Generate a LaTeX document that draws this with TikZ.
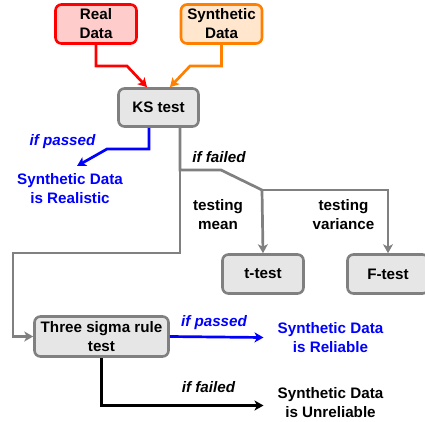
\documentclass[tikz,border=0pt]{standalone}
\usepackage{fontspec}
\setmainfont{Liberation Sans}
\usepackage{xcolor}
\usepackage{tikz}
\usetikzlibrary{shapes.geometric, arrows.meta}
\definecolor{realred}{HTML}{FF0000}
\definecolor{realfill}{HTML}{FFCCCC}
\definecolor{synorange}{HTML}{FF8000}
\definecolor{synfill}{HTML}{FFE6CC}
\definecolor{boxgray}{HTML}{808080}
\definecolor{boxfill}{HTML}{E6E6E6}
\definecolor{passblue}{HTML}{0000FF}
\tikzstyle{databox} = [rectangle, rounded corners=6pt, line width=2.6pt, minimum width=81pt, minimum height=39pt, align=center, inner sep=0pt]
\tikzstyle{testbox} = [rectangle, rounded corners=6pt, line width=2.6pt, draw=boxgray, fill=boxfill, minimum width=81pt, minimum height=39pt, align=center, inner sep=0pt]
\tikzstyle{result} = [align=center, inner sep=0pt]
\tikzstyle{cond} = [inner sep=0pt, font=\fontsize{15.2}{19}\selectfont\bfseries\itshape]
\tikzstyle{arrow} = [line width=2.7pt, -{Stealth[length=9pt, width=10pt, inset=2.5pt]}]

\begin{document}
\begin{tikzpicture}[x=1pt, y=-1pt, font=\fontsize{15.2}{19}\selectfont\bfseries]

        \useasboundingbox (0,0) rectangle (425,421);

        % Nodes
        \node (real) [databox, draw=realred, fill=realfill] at (96,24) {Real\\Data};
        \node (synth) [databox, draw=synorange, fill=synfill] at (221.5,24) {Synthetic\\Data};
        \node (ks) [testbox, minimum width=80pt, minimum height=38pt] at (158.5,107.5) {KS test};
        \node (ttest) [testbox] at (263,274) {t-test};
        \node (ftest) [testbox] at (388,274) {F-test};
        \node (sigma) [testbox, minimum width=134pt, minimum height=40pt] at (101.5,336.5) {Three sigma rule\\test};

        \node (realistic) [result, text=passblue] at (70,188.5) {Synthetic Data\\is Realistic};
        \node (reliable) [result, text=passblue] at (330.5,337.5) {Synthetic Data\\is Reliable};
        \node (unreliable) [result] at (330.5,402.5) {Synthetic Data\\is Unreliable};

        \node (mean) [result] at (218,215) {testing\\mean};
        \node (variance) [result] at (343.5,215) {testing\\variance};

        \node (pass1) [cond, text=passblue] at (62.5,142) {if passed};
        \node (fail1) [cond] at (219,157) {if failed};
        \node (pass2) [cond, text=passblue] at (214,323) {if passed};
        \node (fail2) [cond] at (208.5,387) {if failed};

        \coordinate (realtip) at (77,166);
        \coordinate (split) at (180,170);
        \coordinate (fork) at (262,190);

        % Arrows
        \draw [arrow, draw=realred] (real.south) |- (127,66) -- ([xshift=-11.5pt]ks.north);
        \draw [arrow, draw=synorange] (synth.south) |- (190,66) -- ([xshift=11.5pt]ks.north);
        \draw [arrow, draw=passblue] ([xshift=-9.5pt]ks.south) |- (107,149) -- (realtip);
        \draw [line width=2.7pt, draw=boxgray] (ks.south -| split) -- (split) -- (221,170) -- (fork);
        \draw [arrow, draw=boxgray] (fork) -| (ftest.north);
        \draw [arrow, draw=boxgray] (fork) -- (ttest.north);
        \draw [arrow, draw=boxgray] (split) |- (13,253) |- (sigma.west);
        \draw [arrow, draw=passblue] (sigma.east) -- ([xshift=-14pt]reliable.west);
        \draw [arrow] (sigma.south) |- ([xshift=-14pt, yshift=-3pt]unreliable.west);

    \end{tikzpicture}
\end{document}
